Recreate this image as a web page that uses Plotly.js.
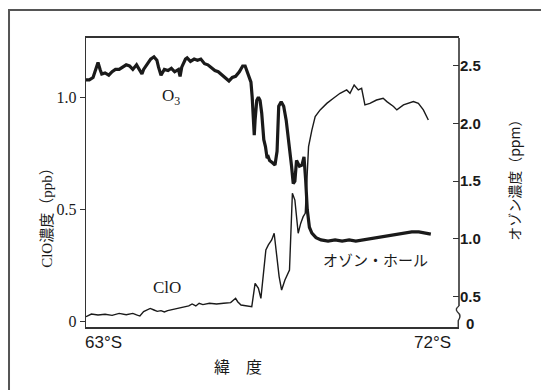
<!DOCTYPE html>
<html>
<head>
<meta charset="utf-8">
<script src="https://cdn.plot.ly/plotly-3.0.1.min.js"></script>
<style>html,body{margin:0;padding:0;background:#fff;}#chart{width:541px;height:390px;}</style>
</head>
<body>
<div id="chart"></div>
<script>
// Ozone (ppm, right axis) along latitude (degrees S)
const o3Lat = [63.00,63.08,63.17,63.25,63.29,63.34,63.38,63.46,63.55,63.63,63.71,63.80,63.88,63.97,64.05,64.13,64.22,64.30,64.35,64.39,64.47,64.56,64.64,64.71,64.75,64.81,64.89,64.98,65.06,65.14,65.23,65.27,65.31,65.40,65.44,65.52,65.61,65.69,65.77,65.86,65.94,66.03,66.11,66.19,66.28,66.36,66.45,66.53,66.61,66.70,66.78,66.84,66.91,66.98,67.01,67.03,67.06,67.08,67.12,67.16,67.20,67.24,67.29,67.33,67.37,67.40,67.43,67.50,67.56,67.61,67.65,67.71,67.77,67.83,67.90,67.96,68.00,68.04,68.08,68.15,68.21,68.26,68.30,68.34,68.39,68.45,68.55,68.67,68.84,69.01,69.18,69.35,69.51,69.68,69.85,70.02,70.19,70.35,70.52,70.69,70.86,71.03,71.19,71.32];
const o3Ppm = [2.38,2.38,2.40,2.49,2.53,2.47,2.43,2.44,2.42,2.45,2.47,2.47,2.49,2.51,2.50,2.47,2.51,2.46,2.43,2.47,2.51,2.56,2.58,2.55,2.49,2.42,2.47,2.46,2.48,2.45,2.47,2.41,2.49,2.56,2.57,2.54,2.56,2.55,2.56,2.52,2.51,2.48,2.46,2.45,2.42,2.40,2.37,2.40,2.41,2.45,2.50,2.50,2.43,2.36,2.23,2.06,1.90,2.03,2.20,2.23,2.20,2.09,1.86,1.80,1.70,1.71,1.68,1.66,1.64,1.76,2.15,2.19,2.15,2.03,1.83,1.63,1.48,1.50,1.68,1.63,1.64,1.71,1.51,1.25,1.10,1.05,1.01,0.99,0.98,0.99,0.98,0.99,0.98,0.99,1.00,1.01,1.02,1.03,1.04,1.05,1.06,1.06,1.05,1.04];

// ClO (ppb, left axis) along latitude
const cloLat = [63.00,63.13,63.29,63.46,63.63,63.80,63.97,64.13,64.22,64.30,64.39,64.47,64.55,64.64,64.72,64.81,64.89,64.97,65.14,65.31,65.48,65.56,65.65,65.73,65.82,65.98,66.15,66.32,66.49,66.61,66.66,66.74,66.91,67.00,67.08,67.16,67.22,67.28,67.34,67.40,67.48,67.54,67.60,67.66,67.72,67.80,67.91,67.95,67.98,68.04,68.08,68.12,68.18,68.24,68.29,68.33,68.37,68.45,68.53,68.65,68.81,68.97,69.13,69.29,69.37,69.47,69.57,69.65,69.73,69.85,70.01,70.17,70.26,70.42,70.50,70.66,70.90,71.02,71.14,71.26];
const cloPpb = [0.022,0.034,0.030,0.033,0.028,0.037,0.031,0.037,0.030,0.025,0.045,0.052,0.059,0.052,0.046,0.049,0.043,0.049,0.055,0.061,0.070,0.079,0.070,0.082,0.076,0.082,0.079,0.082,0.085,0.104,0.089,0.074,0.070,0.067,0.171,0.149,0.104,0.216,0.320,0.342,0.364,0.394,0.305,0.201,0.141,0.186,0.230,0.483,0.572,0.542,0.468,0.394,0.438,0.468,0.483,0.632,0.780,0.854,0.914,0.944,0.973,0.996,1.018,1.033,1.018,1.055,1.033,1.040,0.966,0.973,0.988,0.996,0.981,0.959,0.944,0.966,0.981,0.973,0.944,0.899];

// Tick labels
const xTickVals = [63, 72];
const xTickText = ['63°S', '72°S'];
const leftTickVals = [0, 0.5, 1.0];
const leftTickText = ['0', '0.5', '1.0'];
const rightTickVals = [0.5, 1.0, 1.5, 2.0, 2.5];
const rightTickText = ['0.5', '1.0', '1.5', '2.0', '2.5'];
const rightBreakLabel = '0';

const serif = 'Liberation Serif, Times New Roman, serif';
const jp = 'Noto Sans CJK JP, sans-serif';
const ink = '#1a1a1a';

const traces = [
  {x: cloLat, y: cloPpb, type: 'scatter', mode: 'lines', yaxis: 'y',
   line: {color: ink, width: 1.4}, hoverinfo: 'skip', showlegend: false},
  {x: o3Lat, y: o3Ppm, type: 'scatter', mode: 'lines', yaxis: 'y2',
   line: {color: ink, width: 3.2}, hoverinfo: 'skip', showlegend: false}
];

const layout = {
  width: 541, height: 390,
  margin: {l: 86, r: 82, t: 38, b: 63},
  paper_bgcolor: '#fff', plot_bgcolor: '#fff',
  showlegend: false,
  xaxis: {range: [63, 72], showgrid: false, zeroline: false,
          showline: true, linecolor: '#333', linewidth: 2, mirror: true,
          showticklabels: false, ticks: ''},
  yaxis: {range: [-0.0238, 1.2645], showgrid: false, zeroline: false,
          showline: true, linecolor: '#333', linewidth: 1.2,
          tickvals: leftTickVals, ticktext: leftTickText,
          ticks: 'outside', ticklen: 5, tickcolor: '#333', tickwidth: 1,
          tickfont: {family: serif, size: 16, color: ink}},
  yaxis2: {range: [0.234, 2.743], overlaying: 'y', side: 'right',
           showgrid: false, zeroline: false, showline: false,
           tickvals: rightTickVals, ticktext: rightTickText,
           ticks: 'inside', ticklen: 6, tickcolor: '#333', tickwidth: 1,
           tickfont: {family: 'Liberation Sans, Arial, sans-serif', size: 15, color: ink, weight: 'bold'}},
  shapes: [
    {type: 'rect', xref: 'paper', yref: 'paper', x0: -0.2064, x1: 1.2306, y0: -0.2353, y1: 1.0969,
     line: {color: '#555', width: 2}},
    {type: 'line', xref: 'paper', yref: 'paper', x0: 1, x1: 1, y0: 0.0727, y1: 1,
     line: {color: '#333', width: 1.6}},
    {type: 'path', xref: 'paper', yref: 'paper',
     path: 'M 1,0.0727 Q 0.988,0.062 0.996,0.052 Q 1.008,0.040 0.998,0.022 L 0.998,0',
     line: {color: '#333', width: 1.4}}
  ],
  annotations: [
    {xref: 'x', yref: 'paper', x: xTickVals[0], y: -0.055, xanchor: 'left', yanchor: 'middle', xshift: -3,
     text: xTickText[0], showarrow: false, font: {family: 'Liberation Sans Narrow, Liberation Sans, sans-serif', size: 17, color: ink}},
    {xref: 'x', yref: 'paper', x: xTickVals[1], y: -0.055, xanchor: 'right', yanchor: 'middle', xshift: -6,
     text: xTickText[1], showarrow: false, font: {family: 'Liberation Sans Narrow, Liberation Sans, sans-serif', size: 17, color: ink}},
    {xref: 'paper', yref: 'paper', x: 1.0295, y: 0.0138, xanchor: 'center', yanchor: 'middle',
     text: rightBreakLabel, showarrow: false, font: {family: 'Liberation Sans, sans-serif', size: 15, color: ink, weight: 'bold'}},
    {xref: 'paper', yref: 'paper', x: 0.4075, y: -0.135, xanchor: 'center', yanchor: 'middle',
     text: '緯　度', showarrow: false, font: {family: jp, size: 16, color: ink}},
    {xref: 'paper', yref: 'paper', x: -0.105, y: 0.391, xanchor: 'center', yanchor: 'middle', textangle: -90,
     text: 'ClO濃度（ppb）', showarrow: false, font: {family: serif + ', ' + jp, size: 15, color: ink}},
    {xref: 'paper', yref: 'paper', x: 1.147, y: 0.519, xanchor: 'center', yanchor: 'middle', textangle: -90,
     text: 'オゾン濃度（ppm）', showarrow: false, font: {family: jp, size: 14, color: ink}},
    {xref: 'paper', yref: 'paper', x: 0.228, y: 0.796, xanchor: 'center', yanchor: 'middle',
     text: 'O<sub>3</sub>', showarrow: false, font: {family: serif, size: 17, color: ink}},
    {xref: 'paper', yref: 'paper', x: 0.217, y: 0.135, xanchor: 'center', yanchor: 'middle',
     text: 'ClO', showarrow: false, font: {family: serif, size: 17, color: ink}},
    {xref: 'paper', yref: 'paper', x: 0.775, y: 0.235, xanchor: 'center', yanchor: 'middle',
     text: 'オゾン・ホール', showarrow: false, font: {family: jp, size: 15, color: ink}}
  ]
};

Plotly.newPlot('chart', traces, layout, {staticPlot: true, displayModeBar: false});
</script>
</body>
</html>
